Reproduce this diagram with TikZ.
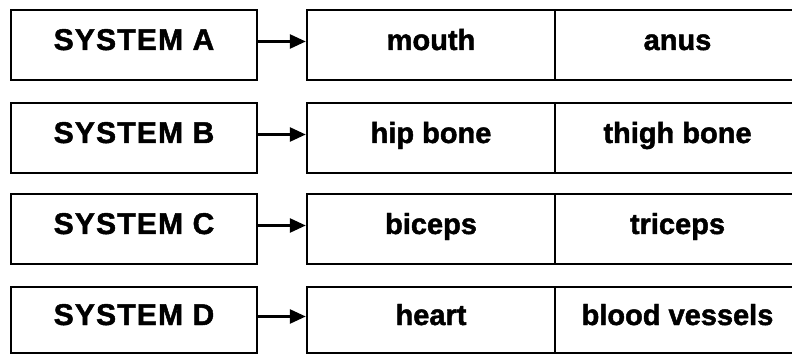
\documentclass[tikz,border=0pt]{standalone}
\usepackage{fontspec}
\setmainfont{Liberation Sans}
\usetikzlibrary{arrows.meta}
\begin{document}
\begin{tikzpicture}[x=1pt,y=-1pt,
  box/.style={draw, line width=2.4pt, inner sep=0pt, text height=20pt, text depth=10pt,
    font=\fontsize{29}{34}\selectfont\bfseries\addfontfeature{FakeBold=1.6}},
  sysbox/.style={box, minimum width=246pt,
    font=\fontsize{30}{34}\selectfont\bfseries\addfontfeature{FakeBold=1.6,LetterSpace=4}},
  cellL/.style={box, minimum width=248pt},
  cellR/.style={box, minimum width=245pt},
  link/.style={line width=2.6pt, -{Triangle[length=16pt,width=14pt]}}]
\useasboundingbox (0,0) rectangle (792,355);
\clip (0,0) rectangle (792,355);
% row A
\node[sysbox, minimum height=70pt] (sysA) at (134,45) {SYSTEM A};
\node[cellL, minimum height=70pt] (a1) at (431,45) {mouth};
\node[cellR, minimum height=70pt] (a2) at (677.5,45) {anus};
% row B
\node[sysbox, minimum height=70pt] (sysB) at (134,138) {SYSTEM B};
\node[cellL, minimum height=70pt] (b1) at (431,138) {hip bone};
\node[cellR, minimum height=70pt] (b2) at (677.5,138) {thigh bone};
% row C
\node[sysbox, minimum height=70pt] (sysC) at (134,229) {SYSTEM C};
\node[cellL, minimum height=70pt] (c1) at (431,229) {biceps};
\node[cellR, minimum height=70pt] (c2) at (677.5,229) {triceps};
% row D
\node[sysbox, minimum height=66pt] (sysD) at (134,320) {SYSTEM D};
\node[cellL, minimum height=66pt] (d1) at (431,320) {heart};
\node[cellR, minimum height=66pt] (d2) at (677.5,320) {blood vessels};
% arrows
\draw[link] ([yshift=3.5pt]sysA.east) -- ([yshift=3.5pt]a1.west);
\draw[link] ([yshift=3.5pt]sysB.east) -- ([yshift=3.5pt]b1.west);
\draw[link] ([yshift=3.5pt]sysC.east) -- ([yshift=3.5pt]c1.west);
\draw[link] ([yshift=3.5pt]sysD.east) -- ([yshift=3.5pt]d1.west);
\end{tikzpicture}
\end{document}
